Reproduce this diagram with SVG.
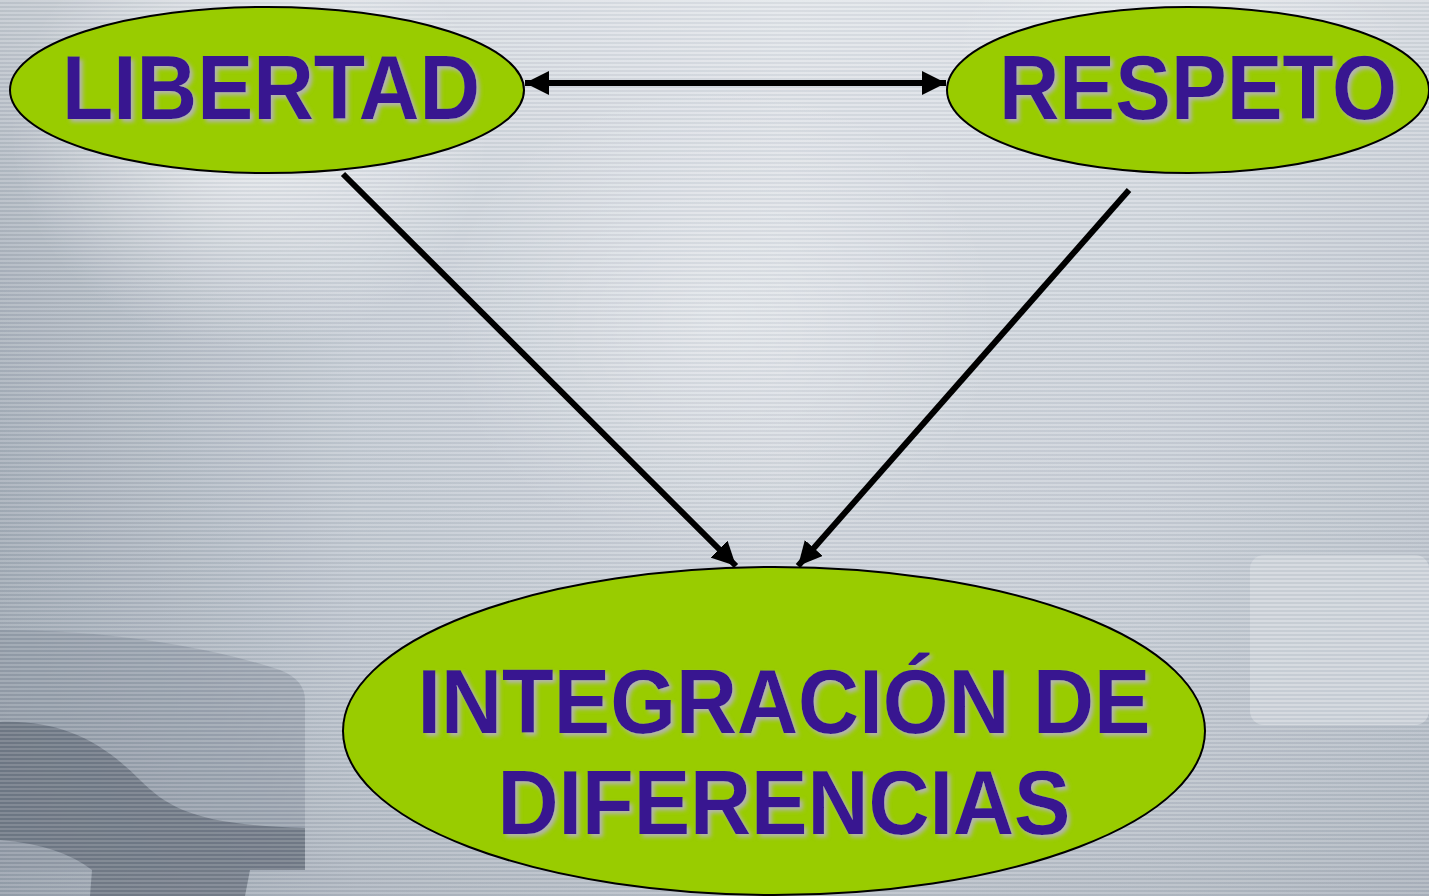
<svg xmlns="http://www.w3.org/2000/svg" width="1429" height="896" viewBox="0 0 1429 896">
<defs>
<linearGradient id="bgH" x1="0" y1="0" x2="1" y2="0">
<stop offset="0" stop-color="#a3acb7"/>
<stop offset="0.25" stop-color="#c4cbd4"/>
<stop offset="0.55" stop-color="#d3d8df"/>
<stop offset="0.8" stop-color="#ccd2da"/>
<stop offset="1" stop-color="#c0c7d0"/>
</linearGradient>
<linearGradient id="bgV" x1="0" y1="0" x2="0" y2="1">
<stop offset="0" stop-color="#ffffff" stop-opacity="0.35"/>
<stop offset="0.3" stop-color="#ffffff" stop-opacity="0.1"/>
<stop offset="0.7" stop-color="#8a94a0" stop-opacity="0.1"/>
<stop offset="1" stop-color="#6f7986" stop-opacity="0.25"/>
</linearGradient>
<radialGradient id="glow1" cx="0.5" cy="0.5" r="0.5">
<stop offset="0" stop-color="#ffffff" stop-opacity="0.6"/>
<stop offset="1" stop-color="#ffffff" stop-opacity="0"/>
</radialGradient>
<pattern id="stripes" width="8" height="4" patternUnits="userSpaceOnUse">
<rect width="8" height="2" fill="#ffffff" fill-opacity="0.14"/>
<rect y="2" width="8" height="2" fill="#5a6470" fill-opacity="0.07"/>
</pattern>
<filter id="shadow" x="-5%" y="-10%" width="115%" height="130%">
<feDropShadow dx="3" dy="3" stdDeviation="2" flood-color="#b4b4b4" flood-opacity="1"/>
</filter>
<marker id="arrowEnd" viewBox="0 0 10 10" refX="10" refY="5" markerWidth="24" markerHeight="24" markerUnits="userSpaceOnUse" orient="auto">
<path d="M0,0 L10,5 L0,10 z" fill="#000"/>
</marker>
<marker id="arrowStart" viewBox="0 0 10 10" refX="0" refY="5" markerWidth="24" markerHeight="24" markerUnits="userSpaceOnUse" orient="auto">
<path d="M10,0 L0,5 L10,10 z" fill="#000"/>
</marker>
<style>
.node{fill:#99cc00;stroke:#000;stroke-width:2}
.lbl{font-family:"Liberation Sans",Arial,sans-serif;font-weight:bold;font-size:90px;fill:#381890;text-anchor:middle;filter:url(#shadow)}
.conn{stroke:#000;stroke-width:6;fill:none}
</style>
</defs>
<g id="background">
<rect width="1429" height="896" fill="url(#bgH)"/>
<rect width="1429" height="896" fill="url(#bgV)"/>
<ellipse cx="250" cy="130" rx="240" ry="220" fill="url(#glow1)"/>
<ellipse cx="720" cy="320" rx="280" ry="240" fill="url(#glow1)" opacity="0.55"/>
<ellipse cx="1180" cy="40" rx="230" ry="100" fill="url(#glow1)" opacity="0.5"/>
<rect x="1250" y="555" width="179" height="170" rx="14" fill="#d3d8df" opacity="0.8"/>
<path d="M0,630 C120,630 220,650 280,670 Q305,680 305,700 L305,870 L0,870 Z" fill="#8b94a0" opacity="0.55"/>
<path d="M0,722 C60,720 100,740 140,780 C170,810 200,825 305,828 L305,870 L250,870 L245,896 L90,896 L92,870 Q60,845 0,840 Z" fill="#5f6875" opacity="0.7"/>
<rect width="1429" height="896" fill="url(#stripes)"/>
</g>
<g id="connectors">
<line class="conn" x1="525" y1="83" x2="946" y2="83" marker-start="url(#arrowStart)" marker-end="url(#arrowEnd)"/>
<line class="conn" x1="343" y1="174" x2="736" y2="566" marker-end="url(#arrowEnd)"/>
<line class="conn" x1="1129" y1="190" x2="798" y2="566" marker-end="url(#arrowEnd)"/>
</g>
<g id="node-libertad">
<ellipse class="node" cx="267" cy="90" rx="257" ry="83"/>
<text class="lbl" x="271" y="119" textLength="418" lengthAdjust="spacingAndGlyphs">LIBERTAD</text>
</g>
<g id="node-respeto">
<ellipse class="node" cx="1188" cy="90" rx="241" ry="83"/>
<text class="lbl" x="1198" y="119" textLength="398" lengthAdjust="spacingAndGlyphs">RESPETO</text>
</g>
<g id="node-integracion">
<ellipse class="node" cx="774" cy="731" rx="431" ry="164"/>
<text class="lbl" x="784" y="733" textLength="733" lengthAdjust="spacingAndGlyphs">INTEGRACIÓN DE</text>
<text class="lbl" x="784" y="834" textLength="573" lengthAdjust="spacingAndGlyphs">DIFERENCIAS</text>
</g>
</svg>
